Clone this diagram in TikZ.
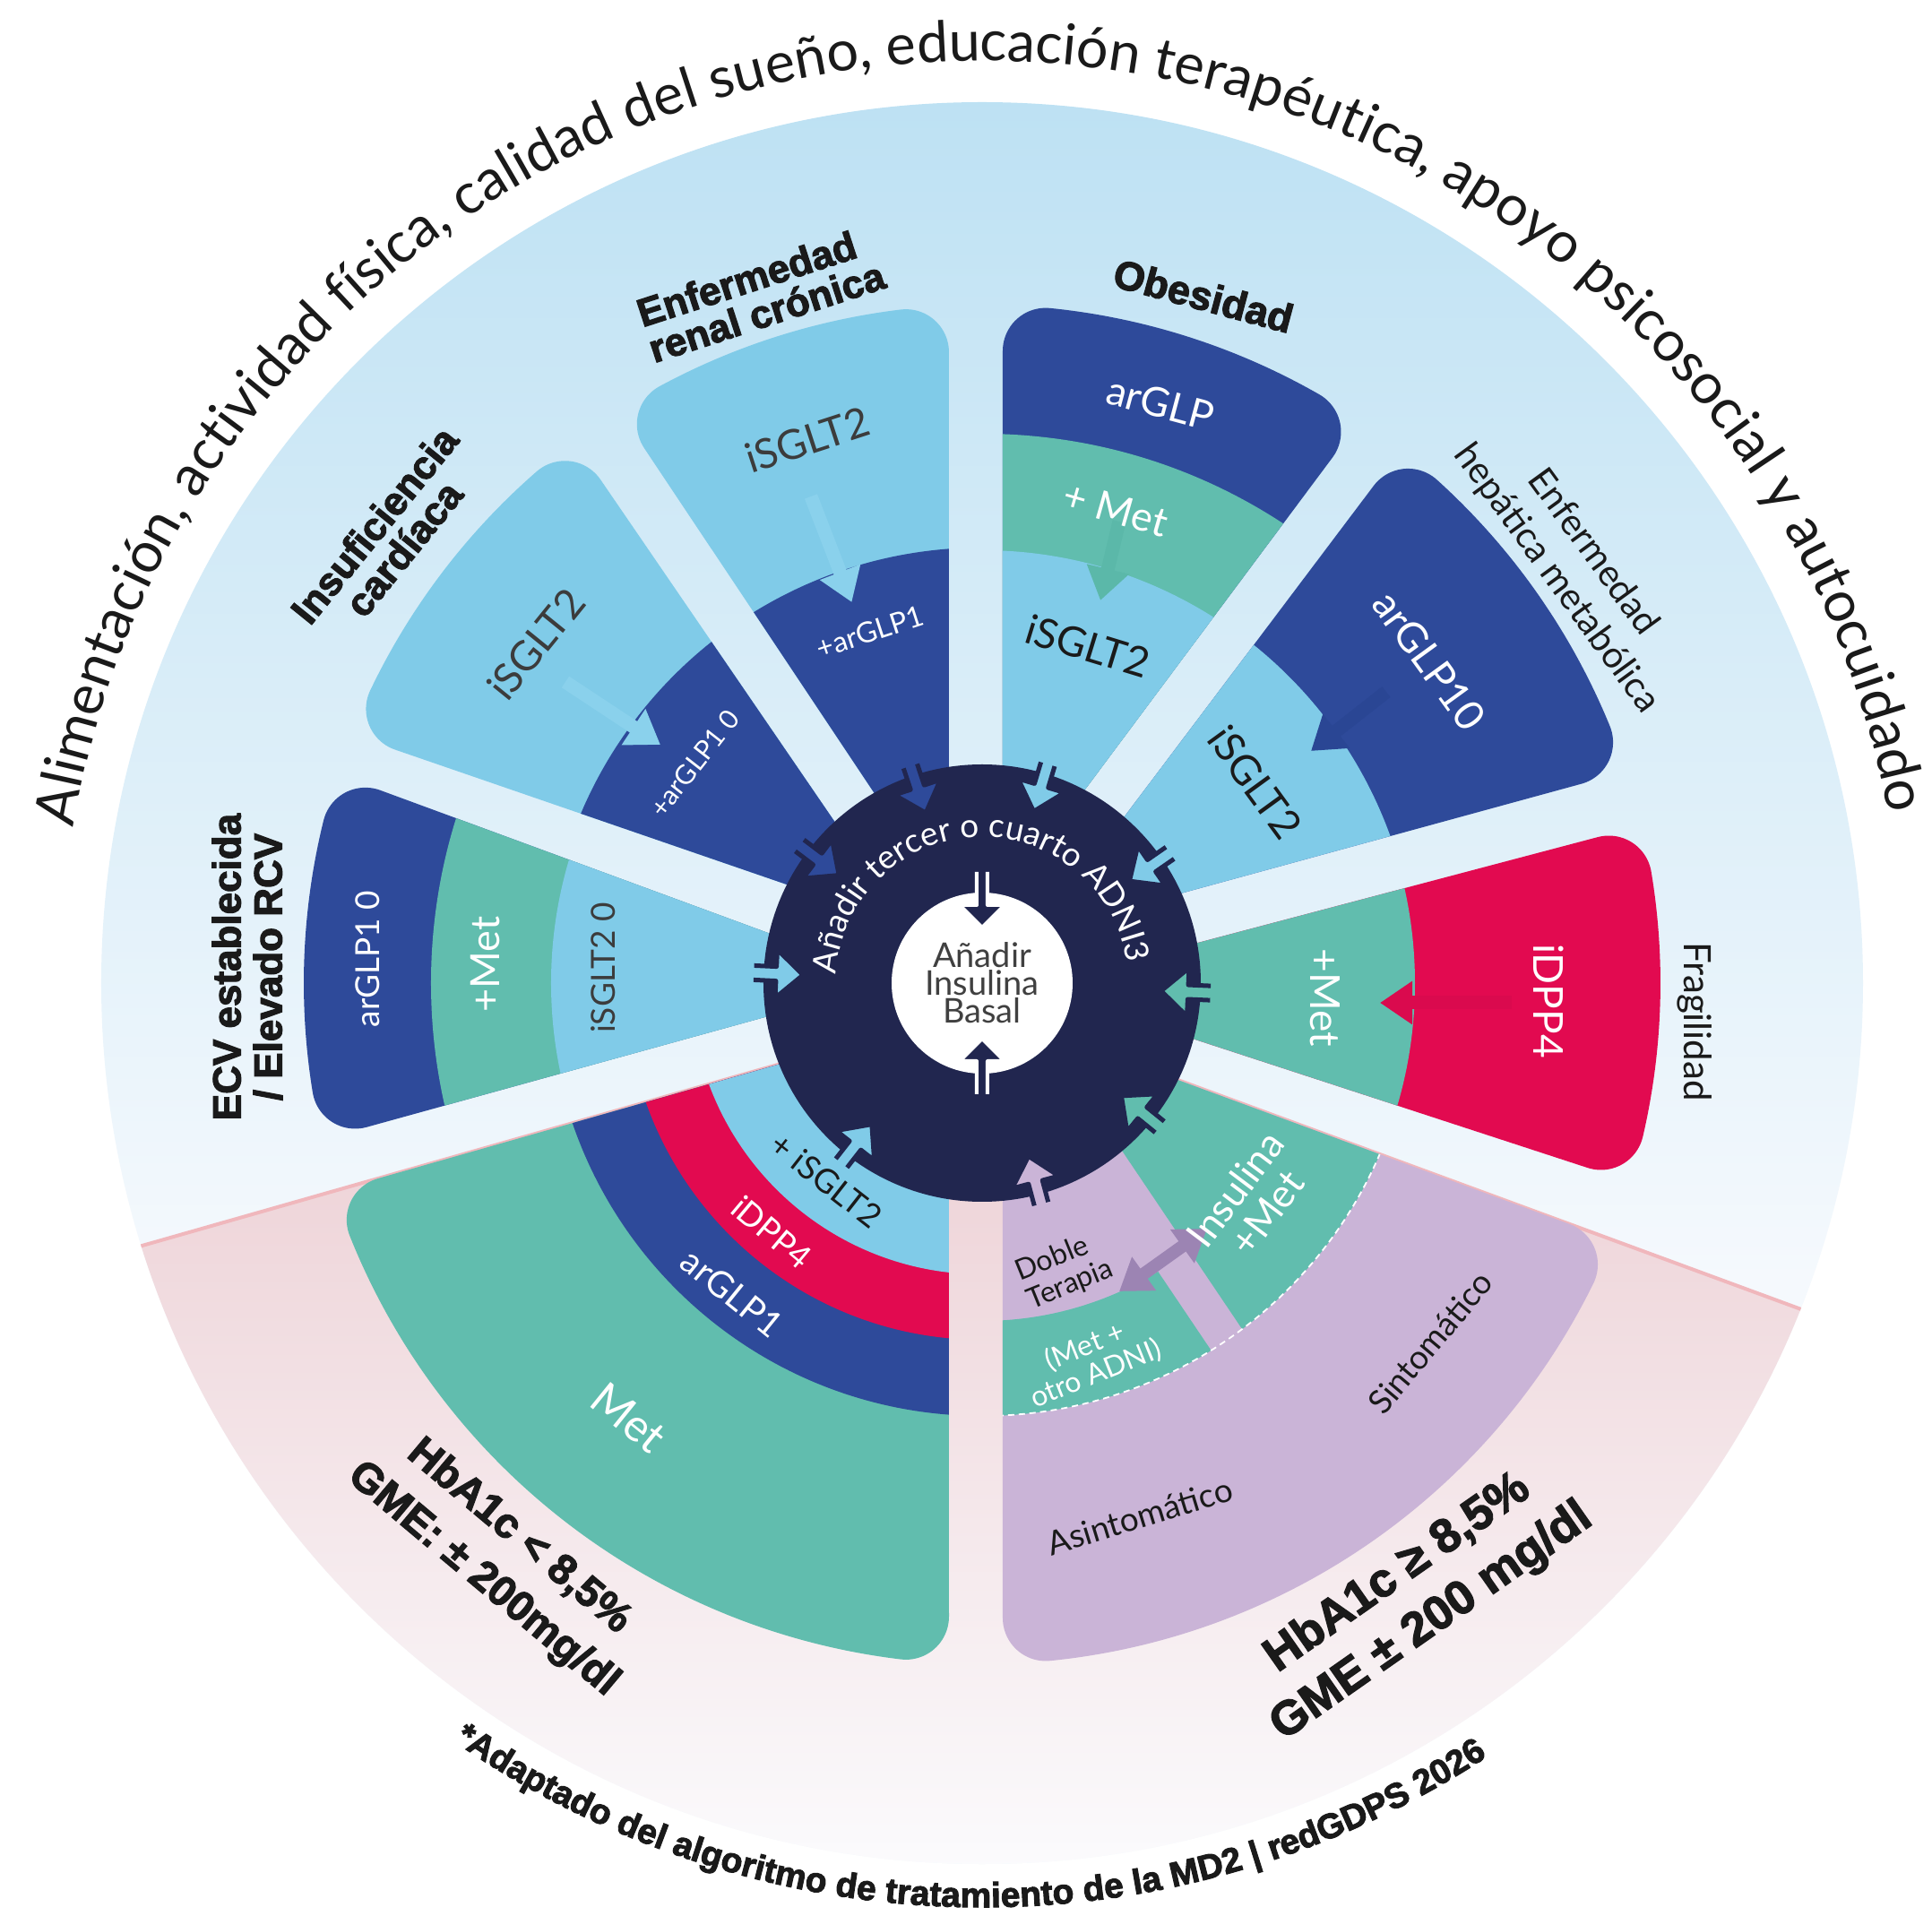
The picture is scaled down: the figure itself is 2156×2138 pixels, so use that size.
\documentclass[tikz,border=0pt]{standalone}
\usepackage{fontspec}
\setmainfont{Lato}
\newfontfamily\lato{Lato}
\newfontfamily\lib{Liberation Sans}[BoldFeatures={FakeBold=2.5}]
\usetikzlibrary{decorations.text,arrows.meta}

\definecolor{lb}{HTML}{80CBE8}
\definecolor{db}{HTML}{2E4A9A}
\definecolor{tl}{HTML}{61BDAE}
\definecolor{rd}{HTML}{E20A50}
\definecolor{lv}{HTML}{CAB4D7}
\definecolor{nv}{HTML}{21264F}
\definecolor{bgtop}{HTML}{BDE1F3}
\definecolor{bgbot}{HTML}{F5F9FD}
\definecolor{pktop}{HTML}{EBCACF}
\definecolor{pkmid}{HTML}{EEE7ED}
\definecolor{pkbot}{HTML}{FBFBFD}
\definecolor{pkline}{HTML}{F0B7BC}
\definecolor{txk}{HTML}{1A1A1A}
\definecolor{txg}{HTML}{3C3C3C}
\definecolor{txc}{HTML}{404040}
\definecolor{dbl}{HTML}{9C84B3}
\definecolor{arlb}{HTML}{8AD1EC}
\definecolor{artl}{HTML}{5BB8A9}
\definecolor{ardb}{HTML}{2A4694}
\definecolor{arrd}{HTML}{DA0A4E}

\newcommand\fs[2]{\fontsize{#1}{#2}\selectfont}

% sector clip: thetaA, offA, thetaB, offB, R, corner radius
\newcommand\sectorclip[6]{%
  \pgfmathsetmacro\scSA{#2+#6}%
  \pgfmathsetmacro\scQA{\scSA/(#5-#6)}%
  \pgfmathsetmacro\scTA{(#5-#6)*sqrt(1-\scQA*\scQA)}%
  \pgfmathsetmacro\scPA{#1+atan(\scSA/\scTA)}%
  \pgfmathsetmacro\scSB{#4-#6}%
  \pgfmathsetmacro\scQB{\scSB/(#5-#6)}%
  \pgfmathsetmacro\scTB{(#5-#6)*sqrt(1-\scQB*\scQB)}%
  \pgfmathsetmacro\scPB{#3+atan(\scSB/\scTB)}%
  \pgfmathsetmacro\scAS{#1-90}%
  \pgfmathsetmacro\scBE{#3+90}%
  \clip ([shift={(#1+90:#2)}]#1:0) -- ([shift={(#1+90:#2)}]#1:\scTA)
    arc[start angle=\scAS, end angle=\scPA, radius=#6]
    arc[start angle=\scPA, end angle=\scPB, radius=#5]
    arc[start angle=\scPB, end angle=\scBE, radius=#6]
    -- ([shift={(#3+90:#4)}]#3:0) -- cycle;
}

\newcommand\ringarrow[2]{%
  \filldraw[fill=#2, draw=nv, line width=5pt, line join=round]
    ([shift={(#1+90:8)}]#1:255) -- ([shift={(#1+90:8)}]#1:230)
    -- ([shift={(#1+90:27)}]#1:230) -- (#1:200)
    -- ([shift={(#1-90:27)}]#1:230) -- ([shift={(#1-90:8)}]#1:230)
    -- ([shift={(#1-90:8)}]#1:255);
}

\newcommand\centerarrow[1]{%
  \filldraw[fill=nv, draw=white, line width=4pt, line join=round]
    ([shift={(#1+90:6)}]#1:124) -- ([shift={(#1+90:6)}]#1:87)
    -- ([shift={(#1+90:25)}]#1:87) -- (#1:62)
    -- ([shift={(#1-90:25)}]#1:87) -- ([shift={(#1-90:6)}]#1:87)
    -- ([shift={(#1-90:6)}]#1:124);
}

\begin{document}
\begin{tikzpicture}[x=1pt,y=1pt,
  lab/.style={inner sep=0pt, outer sep=0pt, align=center},
  wt/.style={lab, text=white},
  kt/.style={lab, text=txk},
  gt/.style={lab, text=txg},
  bandarrow/.style={line width=15pt, -{Triangle[length=36pt,width=46pt]}},
]
\useasboundingbox (-1096,-1041) rectangle (1060,1097);
\fill[white] (-1096,-1041) rectangle (1060,1097);

% ---------- background disk ----------
\begin{scope}
  \clip (0,0) circle[radius=983];
  \shade[top color=bgtop, bottom color=bgbot] (-990,990) rectangle (990,-330);
  \fill[bgbot] (-990,-330) rectangle (990,-990);
  \begin{scope}
    \clip ([shift={(285.9:25)}]195.9:0) -- ([shift={(285.9:25)}]195.9:1200)
      -- (270:1500) -- ([shift={(429.8:-26)}]339.8:1200)
      -- ([shift={(429.8:-26)}]339.8:0) -- cycle;
    \shade[top color=pktop, middle color=pkmid, bottom color=pkbot] (-990,0) rectangle (990,-990);
  \end{scope}
  \draw[pkline, line width=4pt] ([shift={(285.9:25)}]195.9:240) -- ([shift={(285.9:25)}]195.9:1000);
  \draw[pkline, line width=4pt] ([shift={(429.8:-26)}]339.8:240) -- ([shift={(429.8:-26)}]339.8:1000);
\end{scope}

% ---------- sectors ----------
% Fragilidad
\begin{scope}
  \sectorclip{-18.1}{14}{14.8}{-18}{757}{48}
  \fill[rd] (0,0) circle[radius=800];
  \fill[tl] (0,0) circle[radius=483];
\end{scope}
% Hepatica
\begin{scope}
  \sectorclip{15.3}{38}{53}{-15}{757}{48}
  \fill[db] (0,0) circle[radius=800];
  \fill[lb] (0,0) circle[radius=484];
\end{scope}
% Obesidad
\begin{scope}
  \sectorclip{53.3}{37}{90}{-23}{757}{48}
  \fill[db] (0,0) circle[radius=800];
  \fill[tl] (0,0) circle[radius=613];
  \fill[lb] (0,0) circle[radius=483];
\end{scope}
% Renal
\begin{scope}
  \sectorclip{90}{37}{123.7}{-17.5}{757}{48}
  \fill[lb] (0,0) circle[radius=800];
  \fill[db] (0,0) circle[radius=486];
\end{scope}
% Insuficiencia
\begin{scope}
  \sectorclip{124.4}{34}{161}{-33}{757}{48}
  \fill[lb] (0,0) circle[radius=800];
  \fill[db] (0,0) circle[radius=486];
\end{scope}
% ECV
\begin{scope}
  \sectorclip{159.8}{30}{195.45}{-28}{757}{48}
  \fill[db] (0,0) circle[radius=800];
  \fill[tl] (0,0) circle[radius=615];
  \fill[lb] (0,0) circle[radius=481];
\end{scope}
% Bottom left
\begin{scope}
  \sectorclip{195.9}{25}{270}{-37}{760}{48}
  \fill[tl] (0,0) circle[radius=800];
  \fill[db] (0,0) circle[radius=483];
  \fill[rd] (0,0) circle[radius=398];
  \fill[lb] (0,0) circle[radius=325];
\end{scope}
% Bottom right (lavender)
\begin{scope}
  \sectorclip{270}{23}{339.8}{-26}{760}{48}
  \fill[lv] (0,0) circle[radius=800];
  \begin{scope}
    \clip (0,0) circle[radius=483];
    \fill[tl] (-370.6,595) -- (412,-567) -- (1076,-120) -- (293.4,1042) -- cycle;
  \end{scope}
  \begin{scope}
    \clip (-405.4,571.5) -- (377.2,-590.5) -- (-286.8,-1037.5) -- (-1069.4,124.3) -- cycle;
    \fill[tl, even odd rule] (0,0) circle[radius=483] (0,0) circle[radius=377];
  \end{scope}
  \draw[white, line width=1.8pt, dash pattern=on 7pt off 5pt] (272:483) arc[start angle=272, end angle=345, radius=483];
\end{scope}

% ---------- arrows between bands ----------
\coordinate (renS) at (-191,543);  \coordinate (renE) at (-145.5,425);
\coordinate (insS) at (-465,336);  \coordinate (insE) at (-359,266);
\coordinate (obS)  at (153,515);   \coordinate (obE)  at (132,427);
\coordinate (hepS) at (451,325);   \coordinate (hepE) at (367,259);
\coordinate (frS)  at (591,-22);   \coordinate (frE)  at (444,-22);
\draw[bandarrow, arlb] (renS) -- (renE);
\draw[bandarrow, arlb] (insS) -- (insE);
\draw[bandarrow, artl] (obS) -- (obE);
\draw[bandarrow, ardb] (hepS) -- (hepE);
\draw[bandarrow, arrd] (frS) -- (frE);

\coordinate (dtA) at (153,-344); \coordinate (dtB) at (251,-274);
\draw[dbl, line width=14pt, {Triangle[length=34pt,width=44pt]}-{Triangle[length=34pt,width=44pt]}] (dtA) -- (dtB);

% ---------- central circle ----------
\fill[nv] (0,0) circle[radius=244];
\ringarrow{108.3}{db}
\ringarrow{73.3}{lb}
\ringarrow{34.7}{lb}
\ringarrow{-2.5}{tl}
\ringarrow{-39}{tl}
\ringarrow{-75}{lv}
\ringarrow{232}{lb}
\ringarrow{177.4}{lb}
\ringarrow{143}{db}
\fill[white] (0,0) circle[radius=101];
\centerarrow{90}
\centerarrow{270}

% ---------- curved texts ----------
\path[decorate, decoration={text along path, text align=center,
  text={|\lato\fs{63}{70}\color{txk}|Alimentación, actividad física, calidad del sueño, educación terapéutica, apoyo psicosocial y autocuidado}}]
  (180.45:1029) arc[start angle=180.45, end angle=0.45, radius=1029];

\path[decorate, decoration={text along path, text align=center,
  text={|\lato\fs{37}{40}\color{white}|Añadir tercer o cuarto ADNI3}}]
  (182.25:163) arc[start angle=182.25, end angle=2.25, radius=163];

\path[decorate, decoration={text along path, text align=center, text format delimiters={[}{]},
  text={[\lib\bfseries\fs{39}{44}\color{txk}]*Adaptado del algoritmo de tratamiento de la MD2 | redGDPS 2026}}]
  (199.15:1031) arc[start angle=199.15, end angle=339.15, radius=1031];

% ---------- labels ----------
\node[kt, font=\lib\bfseries\fs{44}{42}, align=left, rotate=18] (lblRen) at (-247,769) {Enfermedad\\renal crónica};
\node[kt, font=\lib\bfseries\fs{44}{42}, rotate=51] (lblIns) at (-662,498) {Insuficiencia\\cardíaca};
\node[kt, font=\lib\bfseries\fs{45}{50}, rotate=-15] (lblOb) at (247,767) {Obesidad};
\node[kt, font=\lib\bfseries\fs{44}{46}, rotate=90] (lblEcv) at (-820,18) {ECV establecida\\/ Elevado RCV};
\node[kt, font=\lato\fs{41}{50}, rotate=-54] (lblHep) at (661,466) {Enfermedad\\hepática metabólica};
\node[kt, font=\lato\fs{42}{46}, rotate=-90] (lblFr) at (795,-43) {Fragilidad};
\node[kt, font=\lib\bfseries\fs{47}{62}, rotate=-40] (lblLo) at (-537,-642) {HbA1c < 8,5\%\\GME: ± 200mg/dl};
\node[kt, font=\lib\bfseries\fs{53}{66}, rotate=35] (lblHi) at (483,-686) {HbA1c ≥ 8,5\%\\GME ± 200 mg/dl};

% ---------- band texts ----------
\node[gt, font=\lato\fs{46}{50}, rotate=18] (renA) at (-195,606) {iSGLT2};
\node[wt, font=\lato\fs{32}{36}, rotate=18] (renB) at (-125,392) {+arGLP1};
\node[gt, font=\lato\fs{46}{50}, rotate=51] (insA) at (-498,378) {iSGLT2};
\node[wt, font=\lato\fs{30}{34}, rotate=52] (insB) at (-321,245) {+arGLP1 0};
\node[wt, font=\lato\fs{45}{50}, rotate=-15] (obA) at (199,647) {arGLP};
\node[wt, font=\lato\fs{45}{50}, rotate=-16] (obB) at (149,529) {+ Met};
\node[kt, font=\lato\fs{46}{50}, rotate=-17] (obC) at (118,376) {iSGLT2};
\node[wt, font=\lato\fs{46}{50}, rotate=-54] (hepA) at (499,360) {arGLP10};
\node[kt, font=\lato\fs{46}{50}, rotate=-54] (hepB) at (305,224) {iSGLT2};
\node[wt, font=\lato\fs{46}{50}, rotate=-90] (frA) at (383,-16) {+Met};
\node[wt, font=\lato\fs{46}{50}, rotate=-90] (frB) at (632,-20) {iDPP4};
\node[wt, font=\lato\fs{37}{40}, rotate=90] (ecA) at (-686,27) {arGLP1 0};
\node[wt, font=\lato\fs{45}{50}, rotate=90] (ecB) at (-554,21) {+Met};
\node[gt, font=\lato\fs{37}{40}, rotate=90] (ecC) at (-423,17) {iSGLT2 0};
\node[kt, font=\lato\fs{37}{40}, rotate=-38] (blA) at (-174,-220) {+ iSGLT2};
\node[wt, font=\lato\fs{37}{40}, rotate=-40] (blB) at (-235,-278) {iDPP4};
\node[wt, font=\lato\fs{40}{44}, rotate=-39] (blC) at (-279,-346) {arGLP1};
\node[wt, font=\lato\fs{50}{54}, rotate=-39] (blD) at (-394,-485) {Met};
\node[kt, font=\lato\fs{32}{34}, rotate=22, align=left] (lvA) at (92,-321) {Doble\\Terapia};
\node[wt, font=\lato\fs{32}{33}, rotate=22] (lvB) at (121,-421) {(Met +\\otro ADNI)};
\node[wt, font=\lato\fs{44}{44}, rotate=53] (lvC) at (300,-243) {Insulina\\+Met};
\node[kt, font=\lato\fs{37}{40}, rotate=50] (lvD) at (500,-401) {Sintomático};
\node[kt, font=\lato\fs{37}{40}, rotate=17] (lvE) at (176,-595) {Asintomático};
\node[lab, text=txc, font=\lato\fs{38}{31}] (ctr) at (0,0) {Añadir\\Insulina\\Basal};
\end{tikzpicture}
\end{document}
